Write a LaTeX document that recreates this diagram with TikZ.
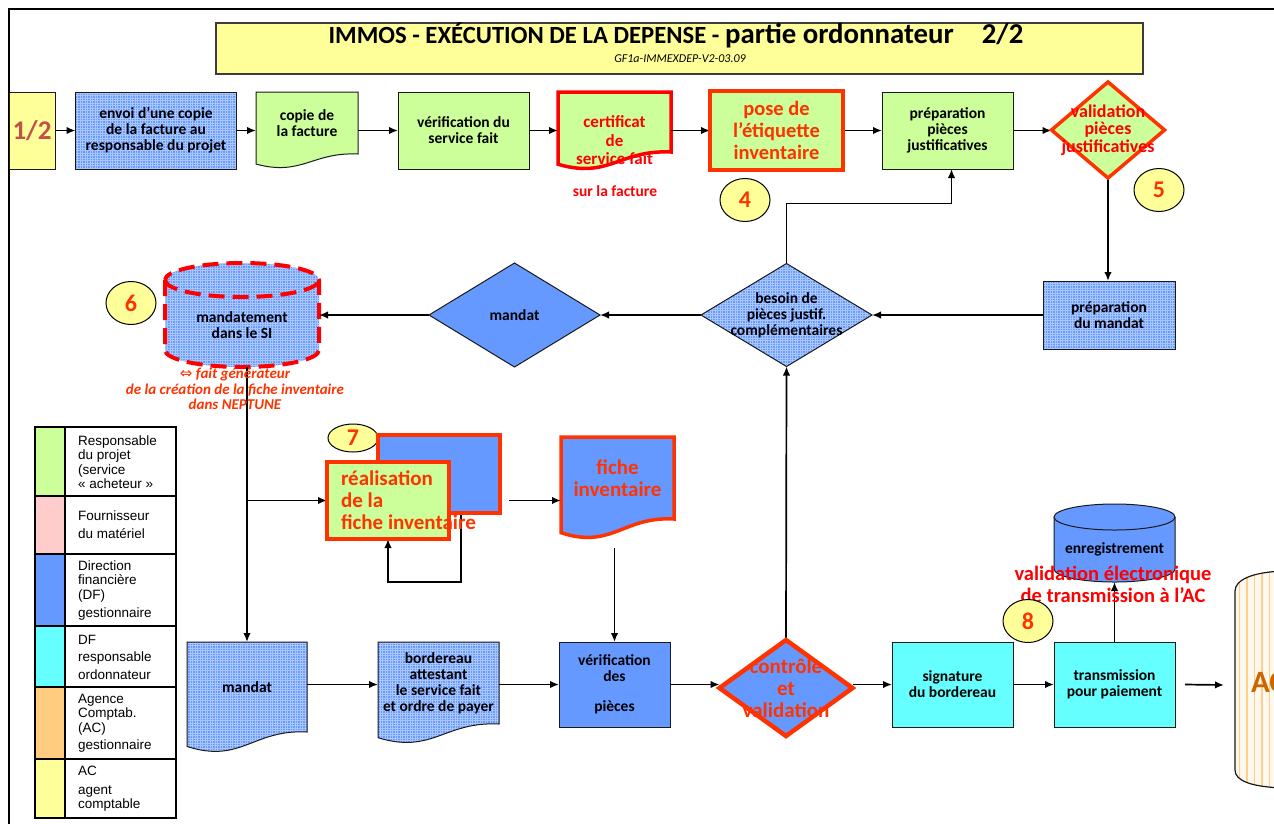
\documentclass[tikz,border=0pt]{standalone}
\usepackage{fontspec}
\setmainfont{Carlito}
\newfontfamily\legendfont{Liberation Sans}
\newfontfamily\symbolfont{DejaVu Sans}
\usetikzlibrary{shapes.geometric,arrows.meta,calc,patterns}

\definecolor{dfblue}{HTML}{6699FF}
\definecolor{gridblue}{HTML}{A9C6FF}
\definecolor{projgreen}{HTML}{CCFF99}
\definecolor{acyellow}{HTML}{FFFF99}
\definecolor{ordcyan}{HTML}{66FFFF}
\definecolor{fourpink}{HTML}{FFCCCC}
\definecolor{agorange}{HTML}{FFCC80}
\definecolor{hotred}{HTML}{FF3300}
\definecolor{purered}{HTML}{FF0000}
\definecolor{halfred}{HTML}{C0504D}
\definecolor{actext}{HTML}{CC6600}
\definecolor{acstripe}{HTML}{FFCF8F}
\definecolor{accream}{HTML}{FFF8EC}
\definecolor{edge}{HTML}{1A1A1A}

\pgfdeclarelayer{bg}
\pgfdeclarelayer{links}
\pgfsetlayers{bg,links,main}

% light grid texture laid over the blue fills
\pgfdeclarepatternformonly{finegrid}{\pgfqpoint{-0.5pt}{-0.5pt}}{\pgfqpoint{3pt}{3pt}}{\pgfqpoint{2.5pt}{2.5pt}}{%
  \pgfsetlinewidth{0.5pt}%
  \pgfpathmoveto{\pgfqpoint{0pt}{0pt}}\pgfpathlineto{\pgfqpoint{2.5pt}{0pt}}%
  \pgfpathmoveto{\pgfqpoint{0pt}{0pt}}\pgfpathlineto{\pgfqpoint{0pt}{2.5pt}}%
  \pgfusepath{stroke}}

\newcommand\bodyfont{\fontsize{15.5}{16}\selectfont\bfseries}
\newcommand\redfont{\fontsize{21}{22}\selectfont\bfseries}
\newcommand\numfont{\fontsize{24}{24}\selectfont\bfseries}

% document shape: the node is the straight part, the wavy edge hangs below it
\newcommand\docwave[3]{%
  \begin{pgfonlayer}{bg}
  \path[#3] (#1.north west) -- (#1.north east) -- (#1.south east)
    .. controls ($(#1.south west)!0.55!(#1.south east)+(0,-0.15*#2)$)
    and ($(#1.south west)!0.45!(#1.south east)+(0,1.6*#2)$)
    .. ($(#1.south west)+(0,0.72*#2)$) -- cycle;
  \end{pgfonlayer}}

% upright drum: the node spans the body between the centres of both ellipses
\newcommand\drumshape[5]{%
  \begin{pgfonlayer}{bg}
  \path[#4] (#1.north west) -- (#1.south west)
    arc[start angle=180,end angle=0,x radius=#2,y radius=#3]
    -- (#1.north east)
    arc[start angle=0,end angle=-180,x radius=#2,y radius=#3] -- cycle;
  \path[#5] (#1.north west) arc[start angle=180,end angle=0,x radius=#2,y radius=#3];
  \end{pgfonlayer}}

\tikzset{
  base/.style={inner sep=0pt, outer sep=0pt, align=center, font=\bodyfont, text=black},
  box/.style={base, rectangle, draw=edge, line width=1pt},
  plain/.style={base, rectangle},
  gridfill/.style={preaction={fill=dfblue}, pattern=finegrid, pattern color=gridblue},
  hotline/.style={draw=hotred, line width=4.5pt},
  diam/.style={base, diamond, draw=edge, line width=1pt},
  num/.style={ellipse, draw=black, line width=1pt, fill=acyellow, inner sep=0pt,
    minimum width=50, minimum height=43, font=\numfont, text=hotred},
  arr/.style={line width=1.7pt, -{Latex[length=9pt,width=7.5pt]}},
  legtext/.style={inner sep=0pt, anchor=west, align=left,
    font=\legendfont\fontsize{13.5}{14.5}\selectfont},
}

\begin{document}
\begin{tikzpicture}[x=1pt,y=-1pt]
\clip (0,0) rectangle (1274,823);
\begin{pgfonlayer}{bg}
\fill[white] (0,0) rectangle (1274,823);
\end{pgfonlayer}

% page frame
\draw[line width=2pt] (9,830) -- (9,9) -- (1280,9);

% title
\node[box, fill=acyellow, draw=edge!85, line width=1.2pt, minimum width=927, minimum height=51] (title) at (679.5,48.5) {};
\node[anchor=base, inner sep=0pt, font=\bfseries] (titletxt) at (676,43)
  {{\fontsize{24.7}{25}\selectfont IMMOS - EXÉCUTION DE LA DEPENSE - }{\fontsize{28.8}{29}\selectfont partie ordonnateur\hspace{28pt}2/2}};
\node[anchor=base, inner sep=0pt, font=\fontsize{12}{12}\selectfont\itshape] (subtitle) at (680,62) {GF1a-IMMEXDEP-V2-03.09};

% first row
\node[box, fill=acyellow, minimum width=46, minimum height=77, font=\fontsize{27}{27}\selectfont\bfseries, text=halfred] (half) at (32,130.5) {1/2};
\node[box, gridfill, minimum width=161, minimum height=77] (envoi) at (156,130.5) {envoi d’une copie\\de la facture au\\responsable du projet};
\node[plain, minimum width=102, minimum height=62] (copie) at (307,123) {copie de\\la facture};
\docwave{copie}{14}{draw=edge, line width=1pt, fill=projgreen}
\node[box, fill=projgreen, minimum width=131, minimum height=77] (verifsf) at (463.5,130.5) {vérification du\\service fait};
\node[plain, minimum width=113, minimum height=60,
  label={[base, font=\fontsize{17}{18.5}\selectfont\bfseries, text=purered, yshift=-18.5pt]center:{certificat\\de\\service fait}}] (certif) at (614.5,122) {};
\docwave{certif}{17}{draw=purered, line width=3.5pt, fill=projgreen}
\node[box, hotline, fill=projgreen, minimum width=133, minimum height=79, font=\fontsize{20.5}{21.7}\selectfont\bfseries, text=hotred] (pose) at (776.5,130.5) {pose de\\l’étiquette\\inventaire};
\node[box, fill=projgreen, minimum width=131, minimum height=77] (prepPJ) at (947.5,130.5) {préparation\\pièces\\justificatives};
\node[diam, draw=hotred, line width=3.5pt, fill=projgreen, minimum width=113, minimum height=96,
  label={[base, font=\fontsize{18}{17.5}\selectfont\bfseries, text=purered]center:{validation\\pièces\\justificatives}}] (validPJ) at (1108,130) {};
\node[base, text=purered] (surfact) at (615,191) {sur la facture};
\node[num] (n4) at (745,200) {4};
\node[num] (n5) at (1159,190) {5};

% second row
\node[box, gridfill, minimum width=132, minimum height=68] (prepM) at (1109,315) {préparation\\du mandat};
\node[diam, gridfill, minimum width=171, minimum height=103,
  label={[base]center:{besoin de\\pièces justif.\\complémentaires}}] (besoin) at (786.5,315) {};
\node[diam, fill=dfblue, minimum width=171, minimum height=104,
  label={[base]center:{mandat}}] (mandatD) at (514.5,315) {};
\node[plain, minimum width=154, minimum height=70,
  label={[base, yshift=-10pt]center:{mandatement\\dans le SI}}] (mandSI) at (242,315) {};
\drumshape{mandSI}{77}{17}{gridfill, draw=purered, line width=4pt, dash pattern=on 16pt off 8pt}{draw=purered, line width=4pt, dash pattern=on 16pt off 8pt}
\node[num] (n6) at (131,303) {6};
\node[base, font=\fontsize{15}{15.5}\selectfont\bfseries\itshape, text=hotred] (faitgen) at (235,389)
  {{\symbolfont\mdseries\upshape ⇔} fait générateur\\de la création de la fiche inventaire\\dans NEPTUNE};

% inventory sheet
\node[num, minimum height=28] (n7) at (353,438) {7};
\node[box, hotline, line width=3.5pt, fill=dfblue, minimum width=122, minimum height=78] (realback) at (439,474) {};
\node[box, hotline, line width=3.5pt, fill=projgreen, minimum width=122, minimum height=77] (realfront) at (388,500.5) {};
\node[base, anchor=west, align=left, font=\redfont, text=hotred] (realtxt) at (341,500) {réalisation\\de la\\fiche inventaire};
\node[plain, minimum width=113, minimum height=82, font=\redfont, text=hotred] (fiche) at (617.5,478) {fiche\\inventaire};
\docwave{fiche}{19}{draw=hotred, line width=3.5pt, fill=dfblue}

% bottom row
\node[plain, minimum width=120, minimum height=90] (mandatdoc) at (247,687) {mandat};
\docwave{mandatdoc}{20}{draw=edge, line width=1pt, gridfill}
\node[plain, minimum width=121, minimum height=82] (bord) at (438.5,683) {bordereau\\attestant\\le service fait\\et ordre de payer};
\docwave{bord}{19}{draw=edge, line width=1pt, gridfill}
\node[box, fill=dfblue, minimum width=111, minimum height=85] (verifP) at (614.5,684.5) {vérification\\des\\[14pt]pièces};
\node[diam, draw=hotred, line width=4.5pt, fill=dfblue, minimum width=133, minimum height=96,
  label={[base, font=\redfont, text=hotred]center:{contrôle\\et\\validation}}] (ctrl) at (786,688) {};
\node[box, fill=ordcyan, minimum width=121, minimum height=85] (sign) at (952.5,684.5) {signature\\du bordereau};
\node[box, fill=ordcyan, minimum width=121, minimum height=85] (trans) at (1114.5,684.5) {transmission\\pour paiement};
\node[plain, minimum width=121, minimum height=52,
  label={[base, yshift=-6pt]center:{enregistrement}}] (enreg) at (1114.5,543) {};
\drumshape{enreg}{60.5}{13}{fill=dfblue, draw=edge, line width=1pt}{draw=edge, line width=1pt}
\node[base, font=\fontsize{20.5}{22}\selectfont\bfseries, text=purered] (valelec) at (1113,584) {validation électronique\\de transmission à l’AC};
\node[num] (n8) at (1028,621) {8};

% accounting agency drum, cut by the page edge
\begin{scope}
  \clip (1284,571) .. controls (1252,572) and (1235,580) .. (1235,591) -- (1235,770)
        .. controls (1235,781) and (1252,787) .. (1284,788) -- cycle;
  \fill[accream] (1230,560) rectangle (1290,800);
  \foreach \sx in {1239.5,1247,...,1290} \draw[acstripe, line width=1.6pt] (\sx,560) -- (\sx,800);
\end{scope}
\draw[edge, line width=1.2pt] (1284,571) .. controls (1252,572) and (1235,580) .. (1235,591) -- (1235,770)
      .. controls (1235,781) and (1252,787) .. (1284,788);
\node[base, anchor=west, font=\fontsize{31}{31}\selectfont\bfseries, text=actext] (ac) at (1251,682) {AC};
\coordinate (acin) at (1224,685);

% legend
\foreach \ya/\yb/\c in {427/496/projgreen, 496/554/fourpink, 554/626/dfblue, 626/687/ordcyan, 687/759/agorange, 759/818/acyellow}
  \fill[\c] (35,\ya) rectangle (64.5,\yb);
\draw[line width=2pt] (35,427) rectangle (176,818);
\draw[line width=2pt] (64.5,427) -- (64.5,818);
\foreach \y in {496,554,626,687,759} \draw[line width=2pt] (35,\y) -- (176,\y);
\node[legtext] (lg1) at (78,462) {Responsable\\du projet\\(service\\« acheteur »};
\node[legtext] (lg2) at (78,525) {Fournisseur\\[3.5pt]du matériel};
\node[legtext] (lg3) at (78,590) {Direction\\financière\\(DF)\\[3.5pt]gestionnaire};
\node[legtext] (lg4) at (78,657) {DF\\[3pt]responsable\\[3pt]ordonnateur};
\node[legtext] (lg5) at (78,723) {Agence\\Comptab.\\(AC)\\[2.5pt]gestionnaire};
\node[legtext] (lg6) at (78,788.5) {AC\\[4.5pt]agent\\comptable};

% connectors
\begin{pgfonlayer}{links}
\draw[arr] (half) -- (envoi);
\draw[arr] (envoi) -- (copie.west |- envoi);
\draw[arr] (copie.east |- verifsf) -- (verifsf);
\draw[arr] (verifsf) -- (certif.west |- verifsf);
\draw[arr] (certif.east |- pose) -- (pose);
\draw[arr] (pose) -- (prepPJ);
\draw[arr] (prepPJ) -- (validPJ.west |- prepPJ);
\draw[arr] (validPJ.south) -- (validPJ.south |- prepM.north);
\draw[arr] (prepM) -- (besoin);
\draw[arr] (besoin) -- (mandatD);
\draw[arr] (mandatD) -- (mandSI.east |- mandatD);
\draw[arr] (besoin.north) -- ++(0,-60) -| ([xshift=4pt]prepPJ.south);
\draw[arr] (ctrl.north) -- (besoin.south);
\draw[arr] ([yshift=-17pt]mandatdoc.north |- mandSI.south) -- (mandatdoc.north);
\draw[arr] (mandatdoc.north |- realfront.west) -- (realfront.west);
\draw[arr] ([xshift=9pt]realback.east |- realfront.west) -- (fiche.west |- realfront.west);
\draw[arr] ([xshift=22pt]realback.south) -- ++(0,69) -| (realfront.south);
\draw[arr] ([yshift=-29pt]verifP.north |- fiche.south) -- (verifP.north);
\draw[arr] (mandatdoc.east |- verifP) -- (bord.west |- verifP);
\draw[arr] (bord.east |- verifP) -- (verifP);
\draw[arr] (verifP) -- (ctrl.west |- verifP);
\draw[arr] (ctrl.east |- sign) -- (sign);
\draw[arr] (sign) -- (trans);
\draw[arr] ([xshift=10pt]trans.east) -- (acin);
\draw[arr] (trans.north) -- ([yshift=-13pt]enreg.south);
\end{pgfonlayer}
\end{tikzpicture}
\end{document}
